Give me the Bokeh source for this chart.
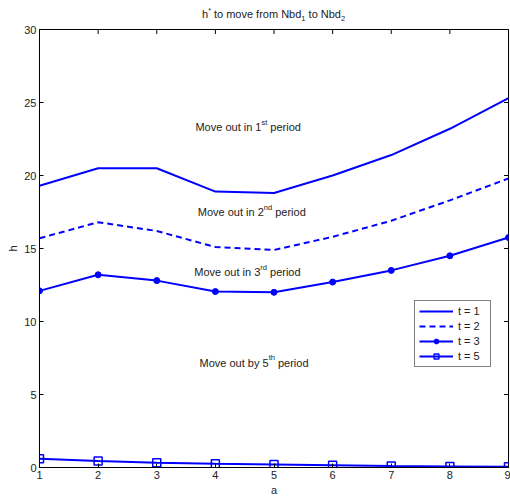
import math
from bokeh.plotting import figure
from bokeh.models import Label, FixedTicker, Range1d, Div
from bokeh.layouts import column
from bokeh.embed import file_html
from bokeh.resources import INLINE

a = [1, 2, 3, 4, 5, 6, 7, 8, 9]
h_t1 = [19.3, 20.5, 20.5, 18.9, 18.8, 20.0, 21.4, 23.2, 25.3]
h_t2 = [15.7, 16.8, 16.2, 15.1, 14.9, 15.8, 16.9, 18.3, 19.8]
h_t3 = [12.1, 13.2, 12.8, 12.05, 12.0, 12.7, 13.5, 14.5, 15.75]
h_t5 = [0.6, 0.45, 0.33, 0.25, 0.2, 0.15, 0.1, 0.07, 0.05]
x_ticks = [1, 2, 3, 4, 5, 6, 7, 8, 9]
y_ticks = [0, 5, 10, 15, 20, 25, 30]

FONT = "Liberation Sans"
BLUE = "#0000ff"
TXT = "#222222"

title = Div(
    text=('<div style="margin:8px 0 0 202px;font-family:\'Liberation Sans\';font-size:11px;'
          'line-height:13px;color:#222;white-space:nowrap">'
          'h<span style="font-size:7px;position:relative;top:-5px">*</span> to move from Nbd'
          '<span style="font-size:7.5px;position:relative;top:3px">1</span> to Nbd'
          '<span style="font-size:7.5px;position:relative;top:3px">2</span></div>'),
    width=510, height=25, margin=(0, 0, 0, 0))

p = figure(width=510, height=473, output_backend="svg", toolbar_location=None,
           x_range=Range1d(1, 9), y_range=Range1d(0, 30),
           min_border_left=39, min_border_right=2, min_border_top=4, min_border_bottom=31)
p.xgrid.visible = False
p.ygrid.visible = False
p.outline_line_color = "black"
p.outline_line_width = 1
p.background_fill_color = "white"
p.border_fill_color = "white"

for ax in (p.xaxis[0], p.yaxis[0]):
    ax.major_tick_in = 4
    ax.major_tick_out = 0
    ax.minor_tick_line_color = None
    ax.major_label_text_font = FONT
    ax.major_label_text_font_size = "11px"
    ax.major_label_text_color = TXT
    ax.axis_label_text_font = FONT
    ax.axis_label_text_font_size = "11px"
    ax.axis_label_text_font_style = "normal"
    ax.axis_label_text_color = TXT
    ax.major_label_standoff = 3
    ax.axis_label_standoff = 2
    ax.axis_line_color = "black"
    ax.major_tick_line_color = "black"
p.xaxis[0].ticker = FixedTicker(ticks=x_ticks)
p.yaxis[0].ticker = FixedTicker(ticks=y_ticks)
p.xaxis[0].axis_label = "a"
p.yaxis[0].axis_label = "h"

# inward ticks on the right and top edges of the box
p.scatter([x_ticks[-1]] * len(y_ticks), y_ticks, marker="dash", size=9,
          line_color="black", line_width=1)
p.scatter(x_ticks, [y_ticks[-1]] * len(x_ticks), marker="dash", size=9,
          angle=math.pi / 2, line_color="black", line_width=1)

p.line(a, h_t1, line_color=BLUE, line_width=2, legend_label="t = 1")
p.line(a, h_t2, line_color=BLUE, line_width=2, line_dash="6 4", legend_label="t = 2")
p.line(a, h_t3, line_color=BLUE, line_width=2, legend_label="t = 3")
p.scatter(a, h_t3, marker="circle", size=6, color=BLUE, legend_label="t = 3")
p.line(a, h_t5, line_color=BLUE, line_width=2, legend_label="t = 5")
p.scatter(a, h_t5, marker="square", size=8, line_color=BLUE, line_width=1.5,
          fill_color=None, legend_label="t = 5")

lg = p.legend[0]
lg.location = (375, 100)
lg.label_text_font = FONT
lg.label_text_font_size = "11px"
lg.label_text_color = TXT
lg.label_height = 12
lg.label_width = 28
lg.glyph_height = 12
lg.glyph_width = 34
lg.spacing = 3
lg.padding = 4
lg.margin = 0
lg.label_standoff = 5
lg.border_line_color = "black"
lg.border_line_width = 1
lg.background_fill_alpha = 1

CW = {' ': .278, 'M': .833, 'o': .556, 'v': .5, 'e': .556, 'u': .556, 't': .278, 'i': .222,
      'n': .556, 'b': .556, 'y': .5, 'p': .556, 'r': .333, 'd': .556, 's': .5, 'h': .556}


def text_width(s):
    return sum(CW.get(c, .556) for c in s)


def rich(x, y, parts, size=11):
    off = 0.0
    for text, sup in parts:
        fs = size * (0.68 if sup else 1.0)
        lead = len(text) - len(text.lstrip(" "))
        off += lead * CW[' '] * fs
        t = text.strip(" ")
        p.add_layout(Label(x=x, y=y, x_offset=off, y_offset=5 if sup else 0, text=t,
                           text_font=FONT, text_font_size=f"{fs:.1f}px",
                           text_color=TXT, text_baseline="middle", text_align="left"))
        off += text_width(t) * fs


annotations = [
    (3.66, 23.3, "Move out in 1", "st"),
    (3.70, 17.47, "Move out in 2", "nd"),
    (3.64, 13.36, "Move out in 3", "rd"),
    (3.73, 7.19, "Move out by 5", "th"),
]
for x, y, t, sup in annotations:
    rich(x, y, [(t, False), (sup, True), (" period", False)])

open("out.html", "w").write(file_html(column(title, p, spacing=0), INLINE))
